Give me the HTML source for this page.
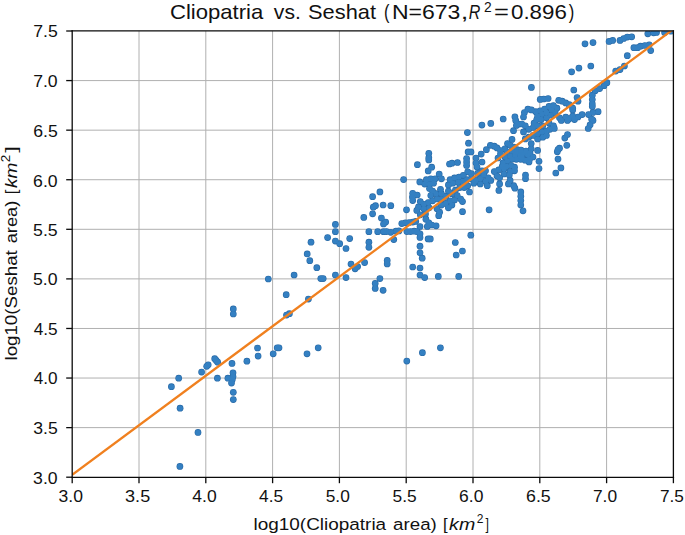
<!DOCTYPE html>
<html><head><meta charset="utf-8"><style>html,body{margin:0;padding:0;background:#fff;overflow:hidden}svg{display:block}</style></head>
<body><svg width="685" height="535" viewBox="0 0 685 535"><rect x="0" y="0" width="685" height="535" fill="#fff"/><g stroke="#b0b0b0" stroke-width="1.0"><line x1="139.00" y1="31.00" x2="139.00" y2="477.20"/><line x1="72.20" y1="427.62" x2="673.40" y2="427.62"/><line x1="205.80" y1="31.00" x2="205.80" y2="477.20"/><line x1="72.20" y1="378.04" x2="673.40" y2="378.04"/><line x1="272.60" y1="31.00" x2="272.60" y2="477.20"/><line x1="72.20" y1="328.47" x2="673.40" y2="328.47"/><line x1="339.40" y1="31.00" x2="339.40" y2="477.20"/><line x1="72.20" y1="278.89" x2="673.40" y2="278.89"/><line x1="406.20" y1="31.00" x2="406.20" y2="477.20"/><line x1="72.20" y1="229.31" x2="673.40" y2="229.31"/><line x1="473.00" y1="31.00" x2="473.00" y2="477.20"/><line x1="72.20" y1="179.73" x2="673.40" y2="179.73"/><line x1="539.80" y1="31.00" x2="539.80" y2="477.20"/><line x1="72.20" y1="130.16" x2="673.40" y2="130.16"/><line x1="606.60" y1="31.00" x2="606.60" y2="477.20"/><line x1="72.20" y1="80.58" x2="673.40" y2="80.58"/></g><clipPath id="c"><rect x="72.2" y="31.0" width="601.1999999999999" height="446.2"/></clipPath><g fill="#2869a6" clip-path="url(#c)"><circle cx="585.0" cy="43.8" r="3.35"/><circle cx="593.0" cy="42.6" r="3.35"/><circle cx="590.8" cy="66.0" r="3.35"/><circle cx="609.1" cy="41.4" r="3.35"/><circle cx="612.7" cy="40.4" r="3.35"/><circle cx="620.0" cy="40.4" r="3.35"/><circle cx="623.7" cy="38.5" r="3.35"/><circle cx="627.3" cy="37.1" r="3.35"/><circle cx="631.7" cy="36.8" r="3.35"/><circle cx="647.8" cy="33.8" r="3.35"/><circle cx="653.6" cy="32.8" r="3.35"/><circle cx="656.5" cy="32.4" r="3.35"/><circle cx="664.6" cy="32.4" r="3.35"/><circle cx="671.1" cy="31.2" r="3.35"/><circle cx="633.9" cy="47.7" r="3.35"/><circle cx="637.6" cy="47.7" r="3.35"/><circle cx="640.5" cy="46.2" r="3.35"/><circle cx="644.9" cy="45.5" r="3.35"/><circle cx="649.2" cy="44.8" r="3.35"/><circle cx="650.7" cy="50.6" r="3.35"/><circle cx="627.3" cy="55.7" r="3.35"/><circle cx="615.7" cy="71.1" r="3.35"/><circle cx="620.0" cy="69.6" r="3.35"/><circle cx="624.4" cy="66.0" r="3.35"/><circle cx="606.9" cy="82.7" r="3.35"/><circle cx="604.0" cy="85.7" r="3.35"/><circle cx="599.6" cy="88.6" r="3.35"/><circle cx="595.2" cy="90.8" r="3.35"/><circle cx="592.3" cy="95.2" r="3.35"/><circle cx="592.3" cy="99.5" r="3.35"/><circle cx="592.3" cy="103.9" r="3.35"/><circle cx="578.9" cy="68.1" r="3.35"/><circle cx="571.6" cy="71.8" r="3.35"/><circle cx="531.4" cy="87.4" r="3.35"/><circle cx="573.8" cy="90.0" r="3.35"/><circle cx="592.3" cy="106.6" r="3.35"/><circle cx="598.1" cy="111.7" r="3.35"/><circle cx="593.0" cy="112.4" r="3.35"/><circle cx="588.6" cy="114.6" r="3.35"/><circle cx="591.6" cy="119.0" r="3.35"/><circle cx="593.0" cy="120.4" r="3.35"/><circle cx="590.1" cy="124.8" r="3.35"/><circle cx="588.2" cy="128.5" r="3.35"/><circle cx="582.1" cy="114.6" r="3.35"/><circle cx="518.6" cy="124.1" r="3.35"/><circle cx="516.4" cy="125.5" r="3.35"/><circle cx="537.6" cy="150.4" r="3.35"/><circle cx="512.0" cy="139.4" r="3.35"/><circle cx="539.0" cy="161.3" r="3.35"/><circle cx="539.0" cy="168.6" r="3.35"/><circle cx="558.0" cy="149.6" r="3.35"/><circle cx="559.5" cy="148.2" r="3.35"/><circle cx="557.3" cy="151.8" r="3.35"/><circle cx="558.0" cy="159.1" r="3.35"/><circle cx="560.9" cy="167.9" r="3.35"/><circle cx="555.8" cy="173.0" r="3.35"/><circle cx="566.8" cy="145.3" r="3.35"/><circle cx="503.2" cy="119.0" r="3.35"/><circle cx="490.8" cy="123.4" r="3.35"/><circle cx="514.9" cy="116.8" r="3.35"/><circle cx="513.5" cy="130.7" r="3.35"/><circle cx="515.7" cy="120.4" r="3.35"/><circle cx="481.9" cy="125.1" r="3.35"/><circle cx="467.4" cy="132.6" r="3.35"/><circle cx="468.5" cy="143.2" r="3.35"/><circle cx="468.1" cy="151.9" r="3.35"/><circle cx="471.0" cy="151.9" r="3.35"/><circle cx="428.8" cy="153.3" r="3.35"/><circle cx="428.8" cy="157.7" r="3.35"/><circle cx="428.8" cy="159.9" r="3.35"/><circle cx="417.4" cy="164.7" r="3.35"/><circle cx="431.7" cy="167.2" r="3.35"/><circle cx="449.5" cy="164.0" r="3.35"/><circle cx="452.0" cy="163.2" r="3.35"/><circle cx="457.5" cy="162.5" r="3.35"/><circle cx="466.6" cy="158.5" r="3.35"/><circle cx="466.6" cy="162.0" r="3.35"/><circle cx="466.6" cy="165.5" r="3.35"/><circle cx="498.9" cy="190.4" r="3.35"/><circle cx="514.9" cy="188.2" r="3.35"/><circle cx="520.8" cy="191.9" r="3.35"/><circle cx="520.8" cy="196.2" r="3.35"/><circle cx="520.8" cy="200.6" r="3.35"/><circle cx="520.8" cy="205.0" r="3.35"/><circle cx="523.0" cy="210.8" r="3.35"/><circle cx="489.1" cy="209.8" r="3.35"/><circle cx="403.6" cy="179.6" r="3.35"/><circle cx="412.7" cy="193.3" r="3.35"/><circle cx="412.4" cy="197.0" r="3.35"/><circle cx="412.7" cy="200.6" r="3.35"/><circle cx="390.8" cy="205.7" r="3.35"/><circle cx="406.5" cy="209.8" r="3.35"/><circle cx="385.7" cy="222.1" r="3.35"/><circle cx="401.8" cy="223.6" r="3.35"/><circle cx="405.4" cy="222.8" r="3.35"/><circle cx="409.1" cy="222.5" r="3.35"/><circle cx="412.7" cy="222.1" r="3.35"/><circle cx="415.7" cy="221.4" r="3.35"/><circle cx="386.5" cy="231.6" r="3.35"/><circle cx="390.8" cy="232.3" r="3.35"/><circle cx="396.0" cy="231.2" r="3.35"/><circle cx="398.9" cy="230.9" r="3.35"/><circle cx="406.9" cy="231.6" r="3.35"/><circle cx="410.5" cy="231.6" r="3.35"/><circle cx="414.2" cy="231.2" r="3.35"/><circle cx="417.1" cy="231.6" r="3.35"/><circle cx="393.8" cy="239.6" r="3.35"/><circle cx="420.0" cy="226.5" r="3.35"/><circle cx="420.0" cy="233.8" r="3.35"/><circle cx="420.0" cy="237.4" r="3.35"/><circle cx="425.9" cy="219.2" r="3.35"/><circle cx="428.8" cy="222.8" r="3.35"/><circle cx="427.3" cy="226.5" r="3.35"/><circle cx="431.7" cy="225.0" r="3.35"/><circle cx="428.1" cy="238.9" r="3.35"/><circle cx="430.3" cy="238.9" r="3.35"/><circle cx="420.0" cy="246.2" r="3.35"/><circle cx="420.0" cy="252.8" r="3.35"/><circle cx="436.1" cy="225.8" r="3.35"/><circle cx="470.8" cy="235.2" r="3.35"/><circle cx="455.3" cy="242.5" r="3.35"/><circle cx="462.4" cy="251.0" r="3.35"/><circle cx="456.2" cy="255.0" r="3.35"/><circle cx="379.9" cy="191.9" r="3.35"/><circle cx="372.6" cy="196.7" r="3.35"/><circle cx="373.3" cy="207.2" r="3.35"/><circle cx="375.5" cy="205.7" r="3.35"/><circle cx="372.6" cy="213.8" r="3.35"/><circle cx="363.8" cy="217.4" r="3.35"/><circle cx="383.1" cy="205.0" r="3.35"/><circle cx="381.4" cy="218.1" r="3.35"/><circle cx="383.5" cy="224.0" r="3.35"/><circle cx="335.4" cy="224.4" r="3.35"/><circle cx="335.4" cy="231.7" r="3.35"/><circle cx="368.9" cy="231.7" r="3.35"/><circle cx="377.7" cy="231.7" r="3.35"/><circle cx="383.5" cy="231.7" r="3.35"/><circle cx="327.6" cy="237.6" r="3.35"/><circle cx="335.4" cy="241.1" r="3.35"/><circle cx="339.7" cy="243.7" r="3.35"/><circle cx="349.7" cy="238.6" r="3.35"/><circle cx="346.0" cy="248.5" r="3.35"/><circle cx="368.9" cy="242.2" r="3.35"/><circle cx="368.9" cy="247.3" r="3.35"/><circle cx="311.0" cy="242.2" r="3.35"/><circle cx="307.2" cy="253.9" r="3.35"/><circle cx="309.8" cy="260.7" r="3.35"/><circle cx="316.8" cy="267.7" r="3.35"/><circle cx="294.1" cy="275.0" r="3.35"/><circle cx="320.8" cy="278.6" r="3.35"/><circle cx="323.2" cy="278.6" r="3.35"/><circle cx="335.4" cy="275.0" r="3.35"/><circle cx="346.0" cy="277.6" r="3.35"/><circle cx="351.0" cy="264.0" r="3.35"/><circle cx="355.1" cy="268.8" r="3.35"/><circle cx="357.6" cy="266.5" r="3.35"/><circle cx="364.6" cy="262.6" r="3.35"/><circle cx="379.9" cy="278.6" r="3.35"/><circle cx="375.2" cy="283.4" r="3.35"/><circle cx="375.2" cy="288.4" r="3.35"/><circle cx="383.1" cy="290.3" r="3.35"/><circle cx="286.2" cy="294.7" r="3.35"/><circle cx="308.4" cy="299.1" r="3.35"/><circle cx="289.4" cy="313.7" r="3.35"/><circle cx="286.5" cy="315.1" r="3.35"/><circle cx="387.2" cy="260.4" r="3.35"/><circle cx="387.2" cy="264.0" r="3.35"/><circle cx="422.2" cy="258.2" r="3.35"/><circle cx="412.7" cy="267.0" r="3.35"/><circle cx="420.0" cy="268.0" r="3.35"/><circle cx="420.0" cy="275.0" r="3.35"/><circle cx="424.7" cy="277.6" r="3.35"/><circle cx="438.3" cy="276.4" r="3.35"/><circle cx="458.7" cy="276.4" r="3.35"/><circle cx="268.3" cy="279.0" r="3.35"/><circle cx="233.3" cy="308.9" r="3.35"/><circle cx="233.3" cy="314.0" r="3.35"/><circle cx="257.5" cy="348.0" r="3.35"/><circle cx="258.1" cy="356.1" r="3.35"/><circle cx="246.9" cy="361.2" r="3.35"/><circle cx="232.0" cy="363.4" r="3.35"/><circle cx="214.7" cy="358.7" r="3.35"/><circle cx="216.2" cy="360.4" r="3.35"/><circle cx="217.7" cy="362.2" r="3.35"/><circle cx="208.2" cy="364.8" r="3.35"/><circle cx="206.7" cy="366.3" r="3.35"/><circle cx="201.6" cy="372.1" r="3.35"/><circle cx="178.7" cy="378.2" r="3.35"/><circle cx="171.4" cy="386.7" r="3.35"/><circle cx="180.1" cy="408.2" r="3.35"/><circle cx="217.4" cy="378.2" r="3.35"/><circle cx="227.9" cy="378.2" r="3.35"/><circle cx="233.0" cy="372.8" r="3.35"/><circle cx="233.0" cy="376.5" r="3.35"/><circle cx="232.3" cy="379.4" r="3.35"/><circle cx="231.5" cy="383.1" r="3.35"/><circle cx="233.3" cy="392.3" r="3.35"/><circle cx="233.3" cy="399.6" r="3.35"/><circle cx="273.2" cy="353.8" r="3.35"/><circle cx="277.2" cy="347.8" r="3.35"/><circle cx="279.0" cy="347.8" r="3.35"/><circle cx="198.0" cy="432.4" r="3.35"/><circle cx="179.9" cy="466.4" r="3.35"/><circle cx="307.0" cy="353.8" r="3.35"/><circle cx="318.2" cy="347.8" r="3.35"/><circle cx="406.8" cy="361.1" r="3.35"/><circle cx="422.4" cy="352.7" r="3.35"/><circle cx="440.4" cy="347.8" r="3.35"/><circle cx="428.2" cy="170.9" r="3.35"/><circle cx="439.2" cy="174.0" r="3.35"/><circle cx="441.4" cy="178.8" r="3.35"/><circle cx="419.8" cy="181.9" r="3.35"/><circle cx="426.4" cy="179.7" r="3.35"/><circle cx="430.8" cy="178.8" r="3.35"/><circle cx="435.2" cy="178.8" r="3.35"/><circle cx="424.7" cy="184.1" r="3.35"/><circle cx="429.5" cy="184.1" r="3.35"/><circle cx="433.5" cy="183.2" r="3.35"/><circle cx="429.5" cy="188.5" r="3.35"/><circle cx="432.6" cy="191.1" r="3.35"/><circle cx="430.8" cy="195.5" r="3.35"/><circle cx="436.1" cy="193.7" r="3.35"/><circle cx="440.5" cy="189.3" r="3.35"/><circle cx="441.4" cy="193.7" r="3.35"/><circle cx="417.2" cy="195.0" r="3.35"/><circle cx="450.1" cy="179.7" r="3.35"/><circle cx="454.5" cy="177.9" r="3.35"/><circle cx="458.9" cy="177.0" r="3.35"/><circle cx="463.3" cy="175.3" r="3.35"/><circle cx="467.7" cy="171.8" r="3.35"/><circle cx="471.2" cy="173.5" r="3.35"/><circle cx="448.4" cy="184.9" r="3.35"/><circle cx="452.8" cy="183.2" r="3.35"/><circle cx="458.1" cy="182.3" r="3.35"/><circle cx="462.5" cy="181.4" r="3.35"/><circle cx="466.8" cy="179.7" r="3.35"/><circle cx="471.2" cy="178.8" r="3.35"/><circle cx="473.9" cy="183.2" r="3.35"/><circle cx="467.7" cy="185.8" r="3.35"/><circle cx="464.2" cy="187.6" r="3.35"/><circle cx="469.5" cy="192.0" r="3.35"/><circle cx="459.8" cy="187.6" r="3.35"/><circle cx="455.4" cy="190.2" r="3.35"/><circle cx="448.4" cy="191.1" r="3.35"/><circle cx="451.9" cy="193.7" r="3.35"/><circle cx="457.2" cy="195.5" r="3.35"/><circle cx="460.7" cy="199.0" r="3.35"/><circle cx="462.5" cy="201.6" r="3.35"/><circle cx="445.8" cy="196.4" r="3.35"/><circle cx="441.4" cy="199.0" r="3.35"/><circle cx="437.0" cy="199.0" r="3.35"/><circle cx="432.6" cy="200.8" r="3.35"/><circle cx="428.2" cy="202.5" r="3.35"/><circle cx="423.8" cy="204.3" r="3.35"/><circle cx="420.3" cy="201.6" r="3.35"/><circle cx="418.5" cy="206.9" r="3.35"/><circle cx="416.8" cy="210.4" r="3.35"/><circle cx="423.8" cy="208.7" r="3.35"/><circle cx="429.1" cy="207.8" r="3.35"/><circle cx="437.0" cy="208.7" r="3.35"/><circle cx="441.4" cy="205.1" r="3.35"/><circle cx="445.8" cy="203.4" r="3.35"/><circle cx="450.1" cy="200.8" r="3.35"/><circle cx="454.5" cy="199.9" r="3.35"/><circle cx="448.4" cy="207.8" r="3.35"/><circle cx="451.9" cy="205.1" r="3.35"/><circle cx="439.6" cy="212.2" r="3.35"/><circle cx="438.7" cy="215.7" r="3.35"/><circle cx="425.5" cy="213.9" r="3.35"/><circle cx="420.3" cy="214.8" r="3.35"/><circle cx="462.5" cy="211.7" r="3.35"/><circle cx="476.0" cy="158.0" r="3.35"/><circle cx="476.0" cy="163.0" r="3.35"/><circle cx="477.0" cy="167.0" r="3.35"/><circle cx="481.2" cy="154.1" r="3.35"/><circle cx="482.0" cy="162.0" r="3.35"/><circle cx="486.4" cy="149.7" r="3.35"/><circle cx="490.4" cy="145.3" r="3.35"/><circle cx="494.3" cy="146.2" r="3.35"/><circle cx="497.0" cy="147.9" r="3.35"/><circle cx="500.5" cy="150.5" r="3.35"/><circle cx="500.5" cy="154.1" r="3.35"/><circle cx="504.9" cy="148.8" r="3.35"/><circle cx="507.5" cy="143.5" r="3.35"/><circle cx="510.1" cy="145.3" r="3.35"/><circle cx="513.7" cy="147.0" r="3.35"/><circle cx="517.2" cy="149.7" r="3.35"/><circle cx="518.9" cy="152.3" r="3.35"/><circle cx="523.3" cy="153.2" r="3.35"/><circle cx="527.7" cy="154.9" r="3.35"/><circle cx="531.2" cy="148.8" r="3.35"/><circle cx="531.2" cy="143.5" r="3.35"/><circle cx="529.5" cy="159.3" r="3.35"/><circle cx="525.1" cy="160.2" r="3.35"/><circle cx="520.7" cy="159.3" r="3.35"/><circle cx="516.3" cy="159.3" r="3.35"/><circle cx="511.9" cy="159.3" r="3.35"/><circle cx="507.5" cy="161.1" r="3.35"/><circle cx="503.1" cy="162.8" r="3.35"/><circle cx="502.2" cy="166.4" r="3.35"/><circle cx="506.6" cy="166.4" r="3.35"/><circle cx="511.0" cy="165.5" r="3.35"/><circle cx="514.5" cy="167.2" r="3.35"/><circle cx="514.5" cy="170.8" r="3.35"/><circle cx="510.1" cy="171.6" r="3.35"/><circle cx="509.3" cy="175.1" r="3.35"/><circle cx="504.0" cy="169.0" r="3.35"/><circle cx="498.7" cy="169.9" r="3.35"/><circle cx="494.3" cy="171.6" r="3.35"/><circle cx="497.0" cy="176.0" r="3.35"/><circle cx="499.6" cy="177.8" r="3.35"/><circle cx="499.6" cy="183.9" r="3.35"/><circle cx="510.1" cy="180.4" r="3.35"/><circle cx="508.4" cy="183.9" r="3.35"/><circle cx="513.7" cy="185.7" r="3.35"/><circle cx="525.5" cy="175.1" r="3.35"/><circle cx="525.5" cy="178.7" r="3.35"/><circle cx="477.6" cy="173.4" r="3.35"/><circle cx="482.0" cy="170.8" r="3.35"/><circle cx="485.5" cy="170.8" r="3.35"/><circle cx="483.8" cy="175.1" r="3.35"/><circle cx="480.3" cy="178.7" r="3.35"/><circle cx="488.2" cy="177.8" r="3.35"/><circle cx="490.8" cy="180.4" r="3.35"/><circle cx="485.5" cy="181.3" r="3.35"/><circle cx="480.3" cy="183.9" r="3.35"/><circle cx="487.3" cy="185.7" r="3.35"/><circle cx="475.9" cy="180.4" r="3.35"/><circle cx="505.0" cy="157.0" r="3.35"/><circle cx="510.0" cy="156.0" r="3.35"/><circle cx="515.0" cy="155.0" r="3.35"/><circle cx="520.0" cy="156.0" r="3.35"/><circle cx="516.0" cy="152.0" r="3.35"/><circle cx="521.0" cy="150.0" r="3.35"/><circle cx="526.0" cy="151.0" r="3.35"/><circle cx="530.0" cy="153.0" r="3.35"/><circle cx="533.0" cy="157.0" r="3.35"/><circle cx="522.0" cy="157.0" r="3.35"/><circle cx="529.0" cy="162.0" r="3.35"/><circle cx="507.0" cy="152.0" r="3.35"/><circle cx="512.0" cy="151.0" r="3.35"/><circle cx="498.0" cy="158.0" r="3.35"/><circle cx="504.0" cy="174.0" r="3.35"/><circle cx="540.2" cy="99.4" r="3.35"/><circle cx="543.7" cy="99.0" r="3.35"/><circle cx="548.1" cy="98.5" r="3.35"/><circle cx="558.7" cy="100.3" r="3.35"/><circle cx="562.2" cy="101.2" r="3.35"/><circle cx="565.7" cy="102.9" r="3.35"/><circle cx="569.2" cy="104.7" r="3.35"/><circle cx="577.1" cy="97.6" r="3.35"/><circle cx="578.0" cy="101.2" r="3.35"/><circle cx="572.7" cy="108.2" r="3.35"/><circle cx="572.7" cy="110.0" r="3.35"/><circle cx="527.9" cy="109.1" r="3.35"/><circle cx="524.4" cy="112.6" r="3.35"/><circle cx="531.4" cy="109.9" r="3.35"/><circle cx="535.8" cy="111.7" r="3.35"/><circle cx="540.2" cy="110.8" r="3.35"/><circle cx="544.6" cy="109.1" r="3.35"/><circle cx="549.0" cy="106.4" r="3.35"/><circle cx="553.4" cy="105.5" r="3.35"/><circle cx="556.9" cy="108.2" r="3.35"/><circle cx="551.6" cy="109.9" r="3.35"/><circle cx="546.4" cy="112.6" r="3.35"/><circle cx="542.0" cy="114.3" r="3.35"/><circle cx="537.6" cy="116.1" r="3.35"/><circle cx="536.7" cy="119.6" r="3.35"/><circle cx="534.1" cy="123.1" r="3.35"/><circle cx="550.8" cy="115.2" r="3.35"/><circle cx="555.1" cy="112.6" r="3.35"/><circle cx="546.4" cy="117.8" r="3.35"/><circle cx="541.1" cy="119.6" r="3.35"/><circle cx="523.5" cy="117.0" r="3.35"/><circle cx="559.5" cy="117.8" r="3.35"/><circle cx="561.3" cy="120.5" r="3.35"/><circle cx="565.7" cy="117.0" r="3.35"/><circle cx="569.2" cy="118.7" r="3.35"/><circle cx="572.7" cy="116.1" r="3.35"/><circle cx="574.5" cy="119.6" r="3.35"/><circle cx="578.0" cy="117.0" r="3.35"/><circle cx="567.5" cy="120.5" r="3.35"/><circle cx="521.8" cy="124.0" r="3.35"/><circle cx="525.3" cy="125.8" r="3.35"/><circle cx="523.5" cy="131.9" r="3.35"/><circle cx="528.8" cy="129.3" r="3.35"/><circle cx="533.2" cy="127.5" r="3.35"/><circle cx="537.6" cy="125.8" r="3.35"/><circle cx="542.8" cy="125.8" r="3.35"/><circle cx="549.0" cy="123.1" r="3.35"/><circle cx="553.4" cy="125.8" r="3.35"/><circle cx="554.3" cy="128.4" r="3.35"/><circle cx="549.9" cy="129.3" r="3.35"/><circle cx="546.4" cy="131.0" r="3.35"/><circle cx="542.0" cy="131.9" r="3.35"/><circle cx="537.6" cy="133.7" r="3.35"/><circle cx="533.2" cy="135.4" r="3.35"/><circle cx="528.8" cy="137.2" r="3.35"/><circle cx="525.3" cy="138.9" r="3.35"/><circle cx="537.6" cy="138.9" r="3.35"/><circle cx="542.8" cy="137.2" r="3.35"/><circle cx="546.4" cy="135.4" r="3.35"/><circle cx="567.5" cy="134.5" r="3.35"/><circle cx="564.8" cy="138.1" r="3.35"/></g><g fill="#3480c2" clip-path="url(#c)"><circle cx="585.0" cy="43.8" r="2.75"/><circle cx="593.0" cy="42.6" r="2.75"/><circle cx="590.8" cy="66.0" r="2.75"/><circle cx="609.1" cy="41.4" r="2.75"/><circle cx="612.7" cy="40.4" r="2.75"/><circle cx="620.0" cy="40.4" r="2.75"/><circle cx="623.7" cy="38.5" r="2.75"/><circle cx="627.3" cy="37.1" r="2.75"/><circle cx="631.7" cy="36.8" r="2.75"/><circle cx="647.8" cy="33.8" r="2.75"/><circle cx="653.6" cy="32.8" r="2.75"/><circle cx="656.5" cy="32.4" r="2.75"/><circle cx="664.6" cy="32.4" r="2.75"/><circle cx="671.1" cy="31.2" r="2.75"/><circle cx="633.9" cy="47.7" r="2.75"/><circle cx="637.6" cy="47.7" r="2.75"/><circle cx="640.5" cy="46.2" r="2.75"/><circle cx="644.9" cy="45.5" r="2.75"/><circle cx="649.2" cy="44.8" r="2.75"/><circle cx="650.7" cy="50.6" r="2.75"/><circle cx="627.3" cy="55.7" r="2.75"/><circle cx="615.7" cy="71.1" r="2.75"/><circle cx="620.0" cy="69.6" r="2.75"/><circle cx="624.4" cy="66.0" r="2.75"/><circle cx="606.9" cy="82.7" r="2.75"/><circle cx="604.0" cy="85.7" r="2.75"/><circle cx="599.6" cy="88.6" r="2.75"/><circle cx="595.2" cy="90.8" r="2.75"/><circle cx="592.3" cy="95.2" r="2.75"/><circle cx="592.3" cy="99.5" r="2.75"/><circle cx="592.3" cy="103.9" r="2.75"/><circle cx="578.9" cy="68.1" r="2.75"/><circle cx="571.6" cy="71.8" r="2.75"/><circle cx="531.4" cy="87.4" r="2.75"/><circle cx="573.8" cy="90.0" r="2.75"/><circle cx="592.3" cy="106.6" r="2.75"/><circle cx="598.1" cy="111.7" r="2.75"/><circle cx="593.0" cy="112.4" r="2.75"/><circle cx="588.6" cy="114.6" r="2.75"/><circle cx="591.6" cy="119.0" r="2.75"/><circle cx="593.0" cy="120.4" r="2.75"/><circle cx="590.1" cy="124.8" r="2.75"/><circle cx="588.2" cy="128.5" r="2.75"/><circle cx="582.1" cy="114.6" r="2.75"/><circle cx="518.6" cy="124.1" r="2.75"/><circle cx="516.4" cy="125.5" r="2.75"/><circle cx="537.6" cy="150.4" r="2.75"/><circle cx="512.0" cy="139.4" r="2.75"/><circle cx="539.0" cy="161.3" r="2.75"/><circle cx="539.0" cy="168.6" r="2.75"/><circle cx="558.0" cy="149.6" r="2.75"/><circle cx="559.5" cy="148.2" r="2.75"/><circle cx="557.3" cy="151.8" r="2.75"/><circle cx="558.0" cy="159.1" r="2.75"/><circle cx="560.9" cy="167.9" r="2.75"/><circle cx="555.8" cy="173.0" r="2.75"/><circle cx="566.8" cy="145.3" r="2.75"/><circle cx="503.2" cy="119.0" r="2.75"/><circle cx="490.8" cy="123.4" r="2.75"/><circle cx="514.9" cy="116.8" r="2.75"/><circle cx="513.5" cy="130.7" r="2.75"/><circle cx="515.7" cy="120.4" r="2.75"/><circle cx="481.9" cy="125.1" r="2.75"/><circle cx="467.4" cy="132.6" r="2.75"/><circle cx="468.5" cy="143.2" r="2.75"/><circle cx="468.1" cy="151.9" r="2.75"/><circle cx="471.0" cy="151.9" r="2.75"/><circle cx="428.8" cy="153.3" r="2.75"/><circle cx="428.8" cy="157.7" r="2.75"/><circle cx="428.8" cy="159.9" r="2.75"/><circle cx="417.4" cy="164.7" r="2.75"/><circle cx="431.7" cy="167.2" r="2.75"/><circle cx="449.5" cy="164.0" r="2.75"/><circle cx="452.0" cy="163.2" r="2.75"/><circle cx="457.5" cy="162.5" r="2.75"/><circle cx="466.6" cy="158.5" r="2.75"/><circle cx="466.6" cy="162.0" r="2.75"/><circle cx="466.6" cy="165.5" r="2.75"/><circle cx="498.9" cy="190.4" r="2.75"/><circle cx="514.9" cy="188.2" r="2.75"/><circle cx="520.8" cy="191.9" r="2.75"/><circle cx="520.8" cy="196.2" r="2.75"/><circle cx="520.8" cy="200.6" r="2.75"/><circle cx="520.8" cy="205.0" r="2.75"/><circle cx="523.0" cy="210.8" r="2.75"/><circle cx="489.1" cy="209.8" r="2.75"/><circle cx="403.6" cy="179.6" r="2.75"/><circle cx="412.7" cy="193.3" r="2.75"/><circle cx="412.4" cy="197.0" r="2.75"/><circle cx="412.7" cy="200.6" r="2.75"/><circle cx="390.8" cy="205.7" r="2.75"/><circle cx="406.5" cy="209.8" r="2.75"/><circle cx="385.7" cy="222.1" r="2.75"/><circle cx="401.8" cy="223.6" r="2.75"/><circle cx="405.4" cy="222.8" r="2.75"/><circle cx="409.1" cy="222.5" r="2.75"/><circle cx="412.7" cy="222.1" r="2.75"/><circle cx="415.7" cy="221.4" r="2.75"/><circle cx="386.5" cy="231.6" r="2.75"/><circle cx="390.8" cy="232.3" r="2.75"/><circle cx="396.0" cy="231.2" r="2.75"/><circle cx="398.9" cy="230.9" r="2.75"/><circle cx="406.9" cy="231.6" r="2.75"/><circle cx="410.5" cy="231.6" r="2.75"/><circle cx="414.2" cy="231.2" r="2.75"/><circle cx="417.1" cy="231.6" r="2.75"/><circle cx="393.8" cy="239.6" r="2.75"/><circle cx="420.0" cy="226.5" r="2.75"/><circle cx="420.0" cy="233.8" r="2.75"/><circle cx="420.0" cy="237.4" r="2.75"/><circle cx="425.9" cy="219.2" r="2.75"/><circle cx="428.8" cy="222.8" r="2.75"/><circle cx="427.3" cy="226.5" r="2.75"/><circle cx="431.7" cy="225.0" r="2.75"/><circle cx="428.1" cy="238.9" r="2.75"/><circle cx="430.3" cy="238.9" r="2.75"/><circle cx="420.0" cy="246.2" r="2.75"/><circle cx="420.0" cy="252.8" r="2.75"/><circle cx="436.1" cy="225.8" r="2.75"/><circle cx="470.8" cy="235.2" r="2.75"/><circle cx="455.3" cy="242.5" r="2.75"/><circle cx="462.4" cy="251.0" r="2.75"/><circle cx="456.2" cy="255.0" r="2.75"/><circle cx="379.9" cy="191.9" r="2.75"/><circle cx="372.6" cy="196.7" r="2.75"/><circle cx="373.3" cy="207.2" r="2.75"/><circle cx="375.5" cy="205.7" r="2.75"/><circle cx="372.6" cy="213.8" r="2.75"/><circle cx="363.8" cy="217.4" r="2.75"/><circle cx="383.1" cy="205.0" r="2.75"/><circle cx="381.4" cy="218.1" r="2.75"/><circle cx="383.5" cy="224.0" r="2.75"/><circle cx="335.4" cy="224.4" r="2.75"/><circle cx="335.4" cy="231.7" r="2.75"/><circle cx="368.9" cy="231.7" r="2.75"/><circle cx="377.7" cy="231.7" r="2.75"/><circle cx="383.5" cy="231.7" r="2.75"/><circle cx="327.6" cy="237.6" r="2.75"/><circle cx="335.4" cy="241.1" r="2.75"/><circle cx="339.7" cy="243.7" r="2.75"/><circle cx="349.7" cy="238.6" r="2.75"/><circle cx="346.0" cy="248.5" r="2.75"/><circle cx="368.9" cy="242.2" r="2.75"/><circle cx="368.9" cy="247.3" r="2.75"/><circle cx="311.0" cy="242.2" r="2.75"/><circle cx="307.2" cy="253.9" r="2.75"/><circle cx="309.8" cy="260.7" r="2.75"/><circle cx="316.8" cy="267.7" r="2.75"/><circle cx="294.1" cy="275.0" r="2.75"/><circle cx="320.8" cy="278.6" r="2.75"/><circle cx="323.2" cy="278.6" r="2.75"/><circle cx="335.4" cy="275.0" r="2.75"/><circle cx="346.0" cy="277.6" r="2.75"/><circle cx="351.0" cy="264.0" r="2.75"/><circle cx="355.1" cy="268.8" r="2.75"/><circle cx="357.6" cy="266.5" r="2.75"/><circle cx="364.6" cy="262.6" r="2.75"/><circle cx="379.9" cy="278.6" r="2.75"/><circle cx="375.2" cy="283.4" r="2.75"/><circle cx="375.2" cy="288.4" r="2.75"/><circle cx="383.1" cy="290.3" r="2.75"/><circle cx="286.2" cy="294.7" r="2.75"/><circle cx="308.4" cy="299.1" r="2.75"/><circle cx="289.4" cy="313.7" r="2.75"/><circle cx="286.5" cy="315.1" r="2.75"/><circle cx="387.2" cy="260.4" r="2.75"/><circle cx="387.2" cy="264.0" r="2.75"/><circle cx="422.2" cy="258.2" r="2.75"/><circle cx="412.7" cy="267.0" r="2.75"/><circle cx="420.0" cy="268.0" r="2.75"/><circle cx="420.0" cy="275.0" r="2.75"/><circle cx="424.7" cy="277.6" r="2.75"/><circle cx="438.3" cy="276.4" r="2.75"/><circle cx="458.7" cy="276.4" r="2.75"/><circle cx="268.3" cy="279.0" r="2.75"/><circle cx="233.3" cy="308.9" r="2.75"/><circle cx="233.3" cy="314.0" r="2.75"/><circle cx="257.5" cy="348.0" r="2.75"/><circle cx="258.1" cy="356.1" r="2.75"/><circle cx="246.9" cy="361.2" r="2.75"/><circle cx="232.0" cy="363.4" r="2.75"/><circle cx="214.7" cy="358.7" r="2.75"/><circle cx="216.2" cy="360.4" r="2.75"/><circle cx="217.7" cy="362.2" r="2.75"/><circle cx="208.2" cy="364.8" r="2.75"/><circle cx="206.7" cy="366.3" r="2.75"/><circle cx="201.6" cy="372.1" r="2.75"/><circle cx="178.7" cy="378.2" r="2.75"/><circle cx="171.4" cy="386.7" r="2.75"/><circle cx="180.1" cy="408.2" r="2.75"/><circle cx="217.4" cy="378.2" r="2.75"/><circle cx="227.9" cy="378.2" r="2.75"/><circle cx="233.0" cy="372.8" r="2.75"/><circle cx="233.0" cy="376.5" r="2.75"/><circle cx="232.3" cy="379.4" r="2.75"/><circle cx="231.5" cy="383.1" r="2.75"/><circle cx="233.3" cy="392.3" r="2.75"/><circle cx="233.3" cy="399.6" r="2.75"/><circle cx="273.2" cy="353.8" r="2.75"/><circle cx="277.2" cy="347.8" r="2.75"/><circle cx="279.0" cy="347.8" r="2.75"/><circle cx="198.0" cy="432.4" r="2.75"/><circle cx="179.9" cy="466.4" r="2.75"/><circle cx="307.0" cy="353.8" r="2.75"/><circle cx="318.2" cy="347.8" r="2.75"/><circle cx="406.8" cy="361.1" r="2.75"/><circle cx="422.4" cy="352.7" r="2.75"/><circle cx="440.4" cy="347.8" r="2.75"/><circle cx="428.2" cy="170.9" r="2.75"/><circle cx="439.2" cy="174.0" r="2.75"/><circle cx="441.4" cy="178.8" r="2.75"/><circle cx="419.8" cy="181.9" r="2.75"/><circle cx="426.4" cy="179.7" r="2.75"/><circle cx="430.8" cy="178.8" r="2.75"/><circle cx="435.2" cy="178.8" r="2.75"/><circle cx="424.7" cy="184.1" r="2.75"/><circle cx="429.5" cy="184.1" r="2.75"/><circle cx="433.5" cy="183.2" r="2.75"/><circle cx="429.5" cy="188.5" r="2.75"/><circle cx="432.6" cy="191.1" r="2.75"/><circle cx="430.8" cy="195.5" r="2.75"/><circle cx="436.1" cy="193.7" r="2.75"/><circle cx="440.5" cy="189.3" r="2.75"/><circle cx="441.4" cy="193.7" r="2.75"/><circle cx="417.2" cy="195.0" r="2.75"/><circle cx="450.1" cy="179.7" r="2.75"/><circle cx="454.5" cy="177.9" r="2.75"/><circle cx="458.9" cy="177.0" r="2.75"/><circle cx="463.3" cy="175.3" r="2.75"/><circle cx="467.7" cy="171.8" r="2.75"/><circle cx="471.2" cy="173.5" r="2.75"/><circle cx="448.4" cy="184.9" r="2.75"/><circle cx="452.8" cy="183.2" r="2.75"/><circle cx="458.1" cy="182.3" r="2.75"/><circle cx="462.5" cy="181.4" r="2.75"/><circle cx="466.8" cy="179.7" r="2.75"/><circle cx="471.2" cy="178.8" r="2.75"/><circle cx="473.9" cy="183.2" r="2.75"/><circle cx="467.7" cy="185.8" r="2.75"/><circle cx="464.2" cy="187.6" r="2.75"/><circle cx="469.5" cy="192.0" r="2.75"/><circle cx="459.8" cy="187.6" r="2.75"/><circle cx="455.4" cy="190.2" r="2.75"/><circle cx="448.4" cy="191.1" r="2.75"/><circle cx="451.9" cy="193.7" r="2.75"/><circle cx="457.2" cy="195.5" r="2.75"/><circle cx="460.7" cy="199.0" r="2.75"/><circle cx="462.5" cy="201.6" r="2.75"/><circle cx="445.8" cy="196.4" r="2.75"/><circle cx="441.4" cy="199.0" r="2.75"/><circle cx="437.0" cy="199.0" r="2.75"/><circle cx="432.6" cy="200.8" r="2.75"/><circle cx="428.2" cy="202.5" r="2.75"/><circle cx="423.8" cy="204.3" r="2.75"/><circle cx="420.3" cy="201.6" r="2.75"/><circle cx="418.5" cy="206.9" r="2.75"/><circle cx="416.8" cy="210.4" r="2.75"/><circle cx="423.8" cy="208.7" r="2.75"/><circle cx="429.1" cy="207.8" r="2.75"/><circle cx="437.0" cy="208.7" r="2.75"/><circle cx="441.4" cy="205.1" r="2.75"/><circle cx="445.8" cy="203.4" r="2.75"/><circle cx="450.1" cy="200.8" r="2.75"/><circle cx="454.5" cy="199.9" r="2.75"/><circle cx="448.4" cy="207.8" r="2.75"/><circle cx="451.9" cy="205.1" r="2.75"/><circle cx="439.6" cy="212.2" r="2.75"/><circle cx="438.7" cy="215.7" r="2.75"/><circle cx="425.5" cy="213.9" r="2.75"/><circle cx="420.3" cy="214.8" r="2.75"/><circle cx="462.5" cy="211.7" r="2.75"/><circle cx="476.0" cy="158.0" r="2.75"/><circle cx="476.0" cy="163.0" r="2.75"/><circle cx="477.0" cy="167.0" r="2.75"/><circle cx="481.2" cy="154.1" r="2.75"/><circle cx="482.0" cy="162.0" r="2.75"/><circle cx="486.4" cy="149.7" r="2.75"/><circle cx="490.4" cy="145.3" r="2.75"/><circle cx="494.3" cy="146.2" r="2.75"/><circle cx="497.0" cy="147.9" r="2.75"/><circle cx="500.5" cy="150.5" r="2.75"/><circle cx="500.5" cy="154.1" r="2.75"/><circle cx="504.9" cy="148.8" r="2.75"/><circle cx="507.5" cy="143.5" r="2.75"/><circle cx="510.1" cy="145.3" r="2.75"/><circle cx="513.7" cy="147.0" r="2.75"/><circle cx="517.2" cy="149.7" r="2.75"/><circle cx="518.9" cy="152.3" r="2.75"/><circle cx="523.3" cy="153.2" r="2.75"/><circle cx="527.7" cy="154.9" r="2.75"/><circle cx="531.2" cy="148.8" r="2.75"/><circle cx="531.2" cy="143.5" r="2.75"/><circle cx="529.5" cy="159.3" r="2.75"/><circle cx="525.1" cy="160.2" r="2.75"/><circle cx="520.7" cy="159.3" r="2.75"/><circle cx="516.3" cy="159.3" r="2.75"/><circle cx="511.9" cy="159.3" r="2.75"/><circle cx="507.5" cy="161.1" r="2.75"/><circle cx="503.1" cy="162.8" r="2.75"/><circle cx="502.2" cy="166.4" r="2.75"/><circle cx="506.6" cy="166.4" r="2.75"/><circle cx="511.0" cy="165.5" r="2.75"/><circle cx="514.5" cy="167.2" r="2.75"/><circle cx="514.5" cy="170.8" r="2.75"/><circle cx="510.1" cy="171.6" r="2.75"/><circle cx="509.3" cy="175.1" r="2.75"/><circle cx="504.0" cy="169.0" r="2.75"/><circle cx="498.7" cy="169.9" r="2.75"/><circle cx="494.3" cy="171.6" r="2.75"/><circle cx="497.0" cy="176.0" r="2.75"/><circle cx="499.6" cy="177.8" r="2.75"/><circle cx="499.6" cy="183.9" r="2.75"/><circle cx="510.1" cy="180.4" r="2.75"/><circle cx="508.4" cy="183.9" r="2.75"/><circle cx="513.7" cy="185.7" r="2.75"/><circle cx="525.5" cy="175.1" r="2.75"/><circle cx="525.5" cy="178.7" r="2.75"/><circle cx="477.6" cy="173.4" r="2.75"/><circle cx="482.0" cy="170.8" r="2.75"/><circle cx="485.5" cy="170.8" r="2.75"/><circle cx="483.8" cy="175.1" r="2.75"/><circle cx="480.3" cy="178.7" r="2.75"/><circle cx="488.2" cy="177.8" r="2.75"/><circle cx="490.8" cy="180.4" r="2.75"/><circle cx="485.5" cy="181.3" r="2.75"/><circle cx="480.3" cy="183.9" r="2.75"/><circle cx="487.3" cy="185.7" r="2.75"/><circle cx="475.9" cy="180.4" r="2.75"/><circle cx="505.0" cy="157.0" r="2.75"/><circle cx="510.0" cy="156.0" r="2.75"/><circle cx="515.0" cy="155.0" r="2.75"/><circle cx="520.0" cy="156.0" r="2.75"/><circle cx="516.0" cy="152.0" r="2.75"/><circle cx="521.0" cy="150.0" r="2.75"/><circle cx="526.0" cy="151.0" r="2.75"/><circle cx="530.0" cy="153.0" r="2.75"/><circle cx="533.0" cy="157.0" r="2.75"/><circle cx="522.0" cy="157.0" r="2.75"/><circle cx="529.0" cy="162.0" r="2.75"/><circle cx="507.0" cy="152.0" r="2.75"/><circle cx="512.0" cy="151.0" r="2.75"/><circle cx="498.0" cy="158.0" r="2.75"/><circle cx="504.0" cy="174.0" r="2.75"/><circle cx="540.2" cy="99.4" r="2.75"/><circle cx="543.7" cy="99.0" r="2.75"/><circle cx="548.1" cy="98.5" r="2.75"/><circle cx="558.7" cy="100.3" r="2.75"/><circle cx="562.2" cy="101.2" r="2.75"/><circle cx="565.7" cy="102.9" r="2.75"/><circle cx="569.2" cy="104.7" r="2.75"/><circle cx="577.1" cy="97.6" r="2.75"/><circle cx="578.0" cy="101.2" r="2.75"/><circle cx="572.7" cy="108.2" r="2.75"/><circle cx="572.7" cy="110.0" r="2.75"/><circle cx="527.9" cy="109.1" r="2.75"/><circle cx="524.4" cy="112.6" r="2.75"/><circle cx="531.4" cy="109.9" r="2.75"/><circle cx="535.8" cy="111.7" r="2.75"/><circle cx="540.2" cy="110.8" r="2.75"/><circle cx="544.6" cy="109.1" r="2.75"/><circle cx="549.0" cy="106.4" r="2.75"/><circle cx="553.4" cy="105.5" r="2.75"/><circle cx="556.9" cy="108.2" r="2.75"/><circle cx="551.6" cy="109.9" r="2.75"/><circle cx="546.4" cy="112.6" r="2.75"/><circle cx="542.0" cy="114.3" r="2.75"/><circle cx="537.6" cy="116.1" r="2.75"/><circle cx="536.7" cy="119.6" r="2.75"/><circle cx="534.1" cy="123.1" r="2.75"/><circle cx="550.8" cy="115.2" r="2.75"/><circle cx="555.1" cy="112.6" r="2.75"/><circle cx="546.4" cy="117.8" r="2.75"/><circle cx="541.1" cy="119.6" r="2.75"/><circle cx="523.5" cy="117.0" r="2.75"/><circle cx="559.5" cy="117.8" r="2.75"/><circle cx="561.3" cy="120.5" r="2.75"/><circle cx="565.7" cy="117.0" r="2.75"/><circle cx="569.2" cy="118.7" r="2.75"/><circle cx="572.7" cy="116.1" r="2.75"/><circle cx="574.5" cy="119.6" r="2.75"/><circle cx="578.0" cy="117.0" r="2.75"/><circle cx="567.5" cy="120.5" r="2.75"/><circle cx="521.8" cy="124.0" r="2.75"/><circle cx="525.3" cy="125.8" r="2.75"/><circle cx="523.5" cy="131.9" r="2.75"/><circle cx="528.8" cy="129.3" r="2.75"/><circle cx="533.2" cy="127.5" r="2.75"/><circle cx="537.6" cy="125.8" r="2.75"/><circle cx="542.8" cy="125.8" r="2.75"/><circle cx="549.0" cy="123.1" r="2.75"/><circle cx="553.4" cy="125.8" r="2.75"/><circle cx="554.3" cy="128.4" r="2.75"/><circle cx="549.9" cy="129.3" r="2.75"/><circle cx="546.4" cy="131.0" r="2.75"/><circle cx="542.0" cy="131.9" r="2.75"/><circle cx="537.6" cy="133.7" r="2.75"/><circle cx="533.2" cy="135.4" r="2.75"/><circle cx="528.8" cy="137.2" r="2.75"/><circle cx="525.3" cy="138.9" r="2.75"/><circle cx="537.6" cy="138.9" r="2.75"/><circle cx="542.8" cy="137.2" r="2.75"/><circle cx="546.4" cy="135.4" r="2.75"/><circle cx="567.5" cy="134.5" r="2.75"/><circle cx="564.8" cy="138.1" r="2.75"/></g><line x1="72.2" y1="474.73" x2="673.4" y2="29.19" stroke="#f0801f" stroke-width="2.25" clip-path="url(#c)"/><g stroke="#0a0a0a" stroke-width="1.3" stroke-linecap="square"><line x1="72.2" y1="30.8" x2="673.4" y2="30.8"/><line x1="72.2" y1="477.3" x2="673.4" y2="477.3"/><line x1="72.2" y1="30.8" x2="72.2" y2="477.3"/><line x1="673.4" y1="30.8" x2="673.4" y2="477.3"/></g><g stroke="#0a0a0a" stroke-width="1.3"><line x1="72.20" y1="477.20" x2="72.20" y2="483.20"/><line x1="66.20" y1="477.20" x2="72.20" y2="477.20"/><line x1="139.00" y1="477.20" x2="139.00" y2="483.20"/><line x1="66.20" y1="427.62" x2="72.20" y2="427.62"/><line x1="205.80" y1="477.20" x2="205.80" y2="483.20"/><line x1="66.20" y1="378.04" x2="72.20" y2="378.04"/><line x1="272.60" y1="477.20" x2="272.60" y2="483.20"/><line x1="66.20" y1="328.47" x2="72.20" y2="328.47"/><line x1="339.40" y1="477.20" x2="339.40" y2="483.20"/><line x1="66.20" y1="278.89" x2="72.20" y2="278.89"/><line x1="406.20" y1="477.20" x2="406.20" y2="483.20"/><line x1="66.20" y1="229.31" x2="72.20" y2="229.31"/><line x1="473.00" y1="477.20" x2="473.00" y2="483.20"/><line x1="66.20" y1="179.73" x2="72.20" y2="179.73"/><line x1="539.80" y1="477.20" x2="539.80" y2="483.20"/><line x1="66.20" y1="130.16" x2="72.20" y2="130.16"/><line x1="606.60" y1="477.20" x2="606.60" y2="483.20"/><line x1="66.20" y1="80.58" x2="72.20" y2="80.58"/><line x1="673.40" y1="477.20" x2="673.40" y2="483.20"/><line x1="66.20" y1="31.00" x2="72.20" y2="31.00"/></g><g font-family='"Liberation Sans", sans-serif' fill="#111" stroke="none"><text x="169.939" y="18.600" font-size="19.800" style="" textLength="93.341" lengthAdjust="spacingAndGlyphs">Cliopatria</text><text x="273.865" y="18.600" font-size="19.800" style="" textLength="26.913" lengthAdjust="spacingAndGlyphs">vs.</text><text x="308.076" y="18.600" font-size="19.800" style="" textLength="67.899" lengthAdjust="spacingAndGlyphs">Seshat</text><text x="383.878" y="18.600" font-size="19.800" style="" textLength="5.421" lengthAdjust="spacingAndGlyphs">(</text><text x="391.951" y="18.600" font-size="19.800" style="" textLength="68.494" lengthAdjust="spacingAndGlyphs">N=673</text><text x="460.822" y="18.600" font-size="19.800" style="" textLength="7.618" lengthAdjust="spacingAndGlyphs">,</text><text x="468.818" y="18.600" font-size="19.800" style="font-style:italic;" textLength="11.586" lengthAdjust="spacingAndGlyphs">R</text><text x="483.882" y="11.600" font-size="14.000" style="" textLength="7.680" lengthAdjust="spacingAndGlyphs">2</text><text x="493.994" y="18.600" font-size="19.800" style="" textLength="14.889" lengthAdjust="spacingAndGlyphs">=</text><text x="511.006" y="18.600" font-size="19.800" style="" textLength="55.845" lengthAdjust="spacingAndGlyphs">0.896</text><text x="568.680" y="18.600" font-size="19.800" style="" textLength="5.533" lengthAdjust="spacingAndGlyphs">)</text><text x="253.502" y="530.100" font-size="17.200" style="" textLength="132.665" lengthAdjust="spacingAndGlyphs">log10(Cliopatria</text><text x="393.120" y="530.100" font-size="17.200" style="" textLength="43.691" lengthAdjust="spacingAndGlyphs">area)</text><text x="442.888" y="530.100" font-size="17.200" style="" textLength="4.624" lengthAdjust="spacingAndGlyphs">[</text><text x="449.120" y="530.100" font-size="17.200" style="font-style:italic;" textLength="26.124" lengthAdjust="spacingAndGlyphs">km</text><text x="476.631" y="523.000" font-size="12.600" style="" textLength="6.689" lengthAdjust="spacingAndGlyphs">2</text><text x="485.582" y="530.100" font-size="17.200" style="" textLength="3.428" lengthAdjust="spacingAndGlyphs">]</text><text transform="translate(16.900,360.529) rotate(-90)" x="0" y="0" font-size="17.200" style="" textLength="110.342" lengthAdjust="spacingAndGlyphs">log10(Seshat</text><text transform="translate(16.900,243.351) rotate(-90)" x="0" y="0" font-size="17.200" style="" textLength="42.708" lengthAdjust="spacingAndGlyphs">area)</text><text transform="translate(16.900,194.265) rotate(-90)" x="0" y="0" font-size="17.200" style="" textLength="4.532" lengthAdjust="spacingAndGlyphs">[</text><text transform="translate(16.900,187.920) rotate(-90)" x="0" y="0" font-size="17.200" style="font-style:italic;" textLength="25.456" lengthAdjust="spacingAndGlyphs">km</text><text transform="translate(10.129,162.255) rotate(-90)" x="0" y="0" font-size="12.600" style="" textLength="7.478" lengthAdjust="spacingAndGlyphs">2</text><text transform="translate(16.900,152.671) rotate(-90)" x="0" y="0" font-size="17.200" style="" textLength="6.709" lengthAdjust="spacingAndGlyphs">]</text><text x="58.618" y="502.200" font-size="17.000" style="" textLength="24.387" lengthAdjust="spacingAndGlyphs">3.0</text><text x="33.110" y="484.000" font-size="17.000" style="" textLength="24.515" lengthAdjust="spacingAndGlyphs">3.0</text><text x="125.088" y="502.200" font-size="17.000" style="" textLength="25.111" lengthAdjust="spacingAndGlyphs">3.5</text><text x="33.227" y="434.111" font-size="17.000" style="" textLength="24.487" lengthAdjust="spacingAndGlyphs">3.5</text><text x="192.300" y="502.200" font-size="17.000" style="" textLength="24.322" lengthAdjust="spacingAndGlyphs">4.0</text><text x="33.741" y="384.222" font-size="17.000" style="" textLength="23.862" lengthAdjust="spacingAndGlyphs">4.0</text><text x="259.045" y="502.200" font-size="17.000" style="" textLength="24.059" lengthAdjust="spacingAndGlyphs">4.5</text><text x="33.741" y="335.333" font-size="17.000" style="" textLength="23.979" lengthAdjust="spacingAndGlyphs">4.5</text><text x="325.743" y="502.200" font-size="17.000" style="" textLength="24.070" lengthAdjust="spacingAndGlyphs">5.0</text><text x="33.039" y="285.444" font-size="17.000" style="" textLength="24.556" lengthAdjust="spacingAndGlyphs">5.0</text><text x="392.586" y="502.200" font-size="17.000" style="" textLength="24.156" lengthAdjust="spacingAndGlyphs">5.5</text><text x="33.039" y="235.556" font-size="17.000" style="" textLength="24.649" lengthAdjust="spacingAndGlyphs">5.5</text><text x="459.084" y="502.200" font-size="17.000" style="" textLength="24.291" lengthAdjust="spacingAndGlyphs">6.0</text><text x="33.110" y="186.667" font-size="17.000" style="" textLength="24.504" lengthAdjust="spacingAndGlyphs">6.0</text><text x="526.006" y="502.200" font-size="17.000" style="" textLength="24.701" lengthAdjust="spacingAndGlyphs">6.5</text><text x="33.180" y="136.778" font-size="17.000" style="" textLength="24.538" lengthAdjust="spacingAndGlyphs">6.5</text><text x="592.967" y="502.200" font-size="17.000" style="" textLength="24.151" lengthAdjust="spacingAndGlyphs">7.0</text><text x="33.125" y="86.889" font-size="17.000" style="" textLength="24.487" lengthAdjust="spacingAndGlyphs">7.0</text><text x="659.876" y="502.200" font-size="17.000" style="" textLength="23.977" lengthAdjust="spacingAndGlyphs">7.5</text><text x="33.180" y="37.000" font-size="17.000" style="" textLength="24.538" lengthAdjust="spacingAndGlyphs">7.5</text></g></svg></body></html>
